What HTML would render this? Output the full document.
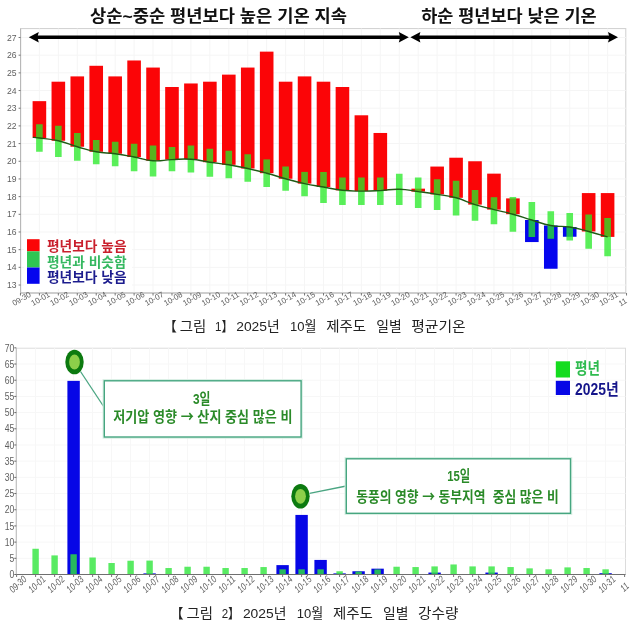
<!DOCTYPE html>
<html lang="ko"><head><meta charset="utf-8"><title>2025년 10월 제주도 일별 평균기온 / 강수량</title>
<style>
html,body{margin:0;padding:0;background:#fff;}
body{width:640px;height:625px;overflow:hidden;font-family:"Liberation Sans","Noto Sans CJK KR",sans-serif;}
svg{display:block;}
.kr{font-family:"Liberation Sans","Noto Sans CJK KR",sans-serif;}
.ax{font-family:"Liberation Sans",sans-serif;fill:#606060;}
</style></head><body>
<svg width="640" height="625" viewBox="0 0 640 625">
<rect x="0" y="0" width="640" height="625" fill="#ffffff"/>

<g id="chart1">
<rect x="20.6" y="28.6" width="605.1999999999999" height="264.4" fill="#fff" stroke="#cfcfcf" stroke-width="1"/>
<path d="M20.6 285.02H625.8 M20.6 267.34H625.8 M20.6 249.66H625.8 M20.6 231.98H625.8 M20.6 214.30H625.8 M20.6 196.62H625.8 M20.6 178.94H625.8 M20.6 161.26H625.8 M20.6 143.58H625.8 M20.6 125.90H625.8 M20.6 108.22H625.8 M20.6 90.54H625.8 M20.6 72.86H625.8 M20.6 55.18H625.8 M20.6 37.50H625.8 M39.40 28.6V293.0 M58.34 28.6V293.0 M77.28 28.6V293.0 M96.22 28.6V293.0 M115.16 28.6V293.0 M134.10 28.6V293.0 M153.04 28.6V293.0 M171.98 28.6V293.0 M190.92 28.6V293.0 M209.86 28.6V293.0 M228.80 28.6V293.0 M247.74 28.6V293.0 M266.68 28.6V293.0 M285.62 28.6V293.0 M304.56 28.6V293.0 M323.50 28.6V293.0 M342.44 28.6V293.0 M361.38 28.6V293.0 M380.32 28.6V293.0 M399.26 28.6V293.0 M418.20 28.6V293.0 M437.14 28.6V293.0 M456.08 28.6V293.0 M475.02 28.6V293.0 M493.96 28.6V293.0 M512.90 28.6V293.0 M531.84 28.6V293.0 M550.78 28.6V293.0 M569.72 28.6V293.0 M588.66 28.6V293.0 M607.60 28.6V293.0" stroke="#f5f5f5" stroke-width="1" fill="none"/>
<path d="M20.6 28.6V293.0H625.8" stroke="#b5b5b5" stroke-width="1" fill="none"/>
<path d="M18.6 285.02H20.6 M18.6 267.34H20.6 M18.6 249.66H20.6 M18.6 231.98H20.6 M18.6 214.30H20.6 M18.6 196.62H20.6 M18.6 178.94H20.6 M18.6 161.26H20.6 M18.6 143.58H20.6 M18.6 125.90H20.6 M18.6 108.22H20.6 M18.6 90.54H20.6 M18.6 72.86H20.6 M18.6 55.18H20.6 M18.6 37.50H20.6 M20.46 293.0v2.5 M39.40 293.0v2.5 M58.34 293.0v2.5 M77.28 293.0v2.5 M96.22 293.0v2.5 M115.16 293.0v2.5 M134.10 293.0v2.5 M153.04 293.0v2.5 M171.98 293.0v2.5 M190.92 293.0v2.5 M209.86 293.0v2.5 M228.80 293.0v2.5 M247.74 293.0v2.5 M266.68 293.0v2.5 M285.62 293.0v2.5 M304.56 293.0v2.5 M323.50 293.0v2.5 M342.44 293.0v2.5 M361.38 293.0v2.5 M380.32 293.0v2.5 M399.26 293.0v2.5 M418.20 293.0v2.5 M437.14 293.0v2.5 M456.08 293.0v2.5 M475.02 293.0v2.5 M493.96 293.0v2.5 M512.90 293.0v2.5 M531.84 293.0v2.5 M550.78 293.0v2.5 M569.72 293.0v2.5 M588.66 293.0v2.5 M607.60 293.0v2.5 M626.54 293.0v2.5" stroke="#777" stroke-width="1" fill="none"/>
<text class="ax" x="16.6" y="288.02" font-size="8.6" text-anchor="end" fill="#5c5c5c">13</text>
<text class="ax" x="16.6" y="270.34" font-size="8.6" text-anchor="end" fill="#5c5c5c">14</text>
<text class="ax" x="16.6" y="252.66" font-size="8.6" text-anchor="end" fill="#5c5c5c">15</text>
<text class="ax" x="16.6" y="234.98" font-size="8.6" text-anchor="end" fill="#5c5c5c">16</text>
<text class="ax" x="16.6" y="217.30" font-size="8.6" text-anchor="end" fill="#5c5c5c">17</text>
<text class="ax" x="16.6" y="199.62" font-size="8.6" text-anchor="end" fill="#5c5c5c">18</text>
<text class="ax" x="16.6" y="181.94" font-size="8.6" text-anchor="end" fill="#5c5c5c">19</text>
<text class="ax" x="16.6" y="164.26" font-size="8.6" text-anchor="end" fill="#5c5c5c">20</text>
<text class="ax" x="16.6" y="146.58" font-size="8.6" text-anchor="end" fill="#5c5c5c">21</text>
<text class="ax" x="16.6" y="128.90" font-size="8.6" text-anchor="end" fill="#5c5c5c">22</text>
<text class="ax" x="16.6" y="111.22" font-size="8.6" text-anchor="end" fill="#5c5c5c">23</text>
<text class="ax" x="16.6" y="93.54" font-size="8.6" text-anchor="end" fill="#5c5c5c">24</text>
<text class="ax" x="16.6" y="75.86" font-size="8.6" text-anchor="end" fill="#5c5c5c">25</text>
<text class="ax" x="16.6" y="58.18" font-size="8.6" text-anchor="end" fill="#5c5c5c">26</text>
<text class="ax" x="16.6" y="40.50" font-size="8.6" text-anchor="end" fill="#5c5c5c">27</text>
<text class="ax" transform="translate(21.66 298.9) rotate(-30)" font-size="7.9" text-anchor="middle" dominant-baseline="central" fill="#5f5f5f">09-30</text>
<text class="ax" transform="translate(40.60 298.9) rotate(-30)" font-size="7.9" text-anchor="middle" dominant-baseline="central" fill="#5f5f5f">10-01</text>
<text class="ax" transform="translate(59.54 298.9) rotate(-30)" font-size="7.9" text-anchor="middle" dominant-baseline="central" fill="#5f5f5f">10-02</text>
<text class="ax" transform="translate(78.48 298.9) rotate(-30)" font-size="7.9" text-anchor="middle" dominant-baseline="central" fill="#5f5f5f">10-03</text>
<text class="ax" transform="translate(97.42 298.9) rotate(-30)" font-size="7.9" text-anchor="middle" dominant-baseline="central" fill="#5f5f5f">10-04</text>
<text class="ax" transform="translate(116.36 298.9) rotate(-30)" font-size="7.9" text-anchor="middle" dominant-baseline="central" fill="#5f5f5f">10-05</text>
<text class="ax" transform="translate(135.30 298.9) rotate(-30)" font-size="7.9" text-anchor="middle" dominant-baseline="central" fill="#5f5f5f">10-06</text>
<text class="ax" transform="translate(154.24 298.9) rotate(-30)" font-size="7.9" text-anchor="middle" dominant-baseline="central" fill="#5f5f5f">10-07</text>
<text class="ax" transform="translate(173.18 298.9) rotate(-30)" font-size="7.9" text-anchor="middle" dominant-baseline="central" fill="#5f5f5f">10-08</text>
<text class="ax" transform="translate(192.12 298.9) rotate(-30)" font-size="7.9" text-anchor="middle" dominant-baseline="central" fill="#5f5f5f">10-09</text>
<text class="ax" transform="translate(211.06 298.9) rotate(-30)" font-size="7.9" text-anchor="middle" dominant-baseline="central" fill="#5f5f5f">10-10</text>
<text class="ax" transform="translate(230.00 298.9) rotate(-30)" font-size="7.9" text-anchor="middle" dominant-baseline="central" fill="#5f5f5f">10-11</text>
<text class="ax" transform="translate(248.94 298.9) rotate(-30)" font-size="7.9" text-anchor="middle" dominant-baseline="central" fill="#5f5f5f">10-12</text>
<text class="ax" transform="translate(267.88 298.9) rotate(-30)" font-size="7.9" text-anchor="middle" dominant-baseline="central" fill="#5f5f5f">10-13</text>
<text class="ax" transform="translate(286.82 298.9) rotate(-30)" font-size="7.9" text-anchor="middle" dominant-baseline="central" fill="#5f5f5f">10-14</text>
<text class="ax" transform="translate(305.76 298.9) rotate(-30)" font-size="7.9" text-anchor="middle" dominant-baseline="central" fill="#5f5f5f">10-15</text>
<text class="ax" transform="translate(324.70 298.9) rotate(-30)" font-size="7.9" text-anchor="middle" dominant-baseline="central" fill="#5f5f5f">10-16</text>
<text class="ax" transform="translate(343.64 298.9) rotate(-30)" font-size="7.9" text-anchor="middle" dominant-baseline="central" fill="#5f5f5f">10-17</text>
<text class="ax" transform="translate(362.58 298.9) rotate(-30)" font-size="7.9" text-anchor="middle" dominant-baseline="central" fill="#5f5f5f">10-18</text>
<text class="ax" transform="translate(381.52 298.9) rotate(-30)" font-size="7.9" text-anchor="middle" dominant-baseline="central" fill="#5f5f5f">10-19</text>
<text class="ax" transform="translate(400.46 298.9) rotate(-30)" font-size="7.9" text-anchor="middle" dominant-baseline="central" fill="#5f5f5f">10-20</text>
<text class="ax" transform="translate(419.40 298.9) rotate(-30)" font-size="7.9" text-anchor="middle" dominant-baseline="central" fill="#5f5f5f">10-21</text>
<text class="ax" transform="translate(438.34 298.9) rotate(-30)" font-size="7.9" text-anchor="middle" dominant-baseline="central" fill="#5f5f5f">10-22</text>
<text class="ax" transform="translate(457.28 298.9) rotate(-30)" font-size="7.9" text-anchor="middle" dominant-baseline="central" fill="#5f5f5f">10-23</text>
<text class="ax" transform="translate(476.22 298.9) rotate(-30)" font-size="7.9" text-anchor="middle" dominant-baseline="central" fill="#5f5f5f">10-24</text>
<text class="ax" transform="translate(495.16 298.9) rotate(-30)" font-size="7.9" text-anchor="middle" dominant-baseline="central" fill="#5f5f5f">10-25</text>
<text class="ax" transform="translate(514.10 298.9) rotate(-30)" font-size="7.9" text-anchor="middle" dominant-baseline="central" fill="#5f5f5f">10-26</text>
<text class="ax" transform="translate(533.04 298.9) rotate(-30)" font-size="7.9" text-anchor="middle" dominant-baseline="central" fill="#5f5f5f">10-27</text>
<text class="ax" transform="translate(551.98 298.9) rotate(-30)" font-size="7.9" text-anchor="middle" dominant-baseline="central" fill="#5f5f5f">10-28</text>
<text class="ax" transform="translate(570.92 298.9) rotate(-30)" font-size="7.9" text-anchor="middle" dominant-baseline="central" fill="#5f5f5f">10-29</text>
<text class="ax" transform="translate(589.86 298.9) rotate(-30)" font-size="7.9" text-anchor="middle" dominant-baseline="central" fill="#5f5f5f">10-30</text>
<text class="ax" transform="translate(608.80 298.9) rotate(-30)" font-size="7.9" text-anchor="middle" dominant-baseline="central" fill="#5f5f5f">10-31</text>
<text class="ax" transform="translate(622.80 302.2) rotate(-30)" font-size="7.9" text-anchor="middle" dominant-baseline="central" fill="#5f5f5f">11</text>
<rect x="32.60" y="101.15" width="13.6" height="36.85" fill="#fb0507"/>
<rect x="51.54" y="81.70" width="13.6" height="59.05" fill="#fb0507"/>
<rect x="70.48" y="76.40" width="13.6" height="70.35" fill="#fb0507"/>
<rect x="89.42" y="65.79" width="13.6" height="85.96" fill="#fb0507"/>
<rect x="108.36" y="76.40" width="13.6" height="77.35" fill="#fb0507"/>
<rect x="127.30" y="60.48" width="13.6" height="96.52" fill="#fb0507"/>
<rect x="146.24" y="67.56" width="13.6" height="93.19" fill="#fb0507"/>
<rect x="165.18" y="87.00" width="13.6" height="72.60" fill="#fb0507"/>
<rect x="184.12" y="83.47" width="13.6" height="75.73" fill="#fb0507"/>
<rect x="203.06" y="81.70" width="13.6" height="80.50" fill="#fb0507"/>
<rect x="222.00" y="74.63" width="13.6" height="90.17" fill="#fb0507"/>
<rect x="240.94" y="67.56" width="13.6" height="100.94" fill="#fb0507"/>
<rect x="259.88" y="51.64" width="13.6" height="121.56" fill="#fb0507"/>
<rect x="278.82" y="81.70" width="13.6" height="97.05" fill="#fb0507"/>
<rect x="297.76" y="76.40" width="13.6" height="107.20" fill="#fb0507"/>
<rect x="316.70" y="81.70" width="13.6" height="105.30" fill="#fb0507"/>
<rect x="335.64" y="87.00" width="13.6" height="103.30" fill="#fb0507"/>
<rect x="354.58" y="115.29" width="13.6" height="75.81" fill="#fb0507"/>
<rect x="373.52" y="132.97" width="13.6" height="57.63" fill="#fb0507"/>
<rect x="411.40" y="188.66" width="13.6" height="2.94" fill="#fb0507"/>
<rect x="430.34" y="166.56" width="13.6" height="27.84" fill="#fb0507"/>
<rect x="449.28" y="157.72" width="13.6" height="40.08" fill="#fb0507"/>
<rect x="468.22" y="161.26" width="13.6" height="43.34" fill="#fb0507"/>
<rect x="487.16" y="173.64" width="13.6" height="35.96" fill="#fb0507"/>
<rect x="506.10" y="198.39" width="13.6" height="15.81" fill="#fb0507"/>
<rect x="525.04" y="220.00" width="13.6" height="22.06" fill="#0505ee"/>
<rect x="543.98" y="225.50" width="13.6" height="43.25" fill="#0505ee"/>
<rect x="562.92" y="227.00" width="13.6" height="9.75" fill="#0505ee"/>
<rect x="581.86" y="193.08" width="13.6" height="38.42" fill="#fb0507"/>
<rect x="600.80" y="193.08" width="13.6" height="43.82" fill="#fb0507"/>
<rect x="36.10" y="124.25" width="6.6" height="27.50" fill="#26ea26" fill-opacity="0.76"/>
<rect x="55.04" y="125.75" width="6.6" height="31.25" fill="#26ea26" fill-opacity="0.76"/>
<rect x="73.98" y="133.00" width="6.6" height="27.75" fill="#26ea26" fill-opacity="0.76"/>
<rect x="92.92" y="140.00" width="6.6" height="24.25" fill="#26ea26" fill-opacity="0.76"/>
<rect x="111.86" y="141.75" width="6.6" height="24.50" fill="#26ea26" fill-opacity="0.76"/>
<rect x="130.80" y="143.75" width="6.6" height="27.50" fill="#26ea26" fill-opacity="0.76"/>
<rect x="149.74" y="145.50" width="6.6" height="31.00" fill="#26ea26" fill-opacity="0.76"/>
<rect x="168.68" y="147.00" width="6.6" height="24.25" fill="#26ea26" fill-opacity="0.76"/>
<rect x="187.62" y="145.50" width="6.6" height="27.00" fill="#26ea26" fill-opacity="0.76"/>
<rect x="206.56" y="148.75" width="6.6" height="28.00" fill="#26ea26" fill-opacity="0.76"/>
<rect x="225.50" y="150.75" width="6.6" height="27.50" fill="#26ea26" fill-opacity="0.76"/>
<rect x="244.44" y="154.25" width="6.6" height="27.50" fill="#26ea26" fill-opacity="0.76"/>
<rect x="263.38" y="159.40" width="6.6" height="27.60" fill="#26ea26" fill-opacity="0.76"/>
<rect x="282.32" y="166.50" width="6.6" height="24.25" fill="#26ea26" fill-opacity="0.76"/>
<rect x="301.26" y="171.90" width="6.6" height="24.35" fill="#26ea26" fill-opacity="0.76"/>
<rect x="320.20" y="172.00" width="6.6" height="31.00" fill="#26ea26" fill-opacity="0.76"/>
<rect x="339.14" y="177.50" width="6.6" height="27.50" fill="#26ea26" fill-opacity="0.76"/>
<rect x="358.08" y="177.50" width="6.6" height="27.50" fill="#26ea26" fill-opacity="0.76"/>
<rect x="377.02" y="177.50" width="6.6" height="27.50" fill="#26ea26" fill-opacity="0.76"/>
<rect x="395.96" y="173.75" width="6.6" height="31.25" fill="#26ea26" fill-opacity="0.76"/>
<rect x="414.90" y="177.50" width="6.6" height="30.50" fill="#26ea26" fill-opacity="0.76"/>
<rect x="433.84" y="179.25" width="6.6" height="30.75" fill="#26ea26" fill-opacity="0.76"/>
<rect x="452.78" y="180.75" width="6.6" height="34.75" fill="#26ea26" fill-opacity="0.76"/>
<rect x="471.72" y="190.00" width="6.6" height="30.75" fill="#26ea26" fill-opacity="0.76"/>
<rect x="490.66" y="197.20" width="6.6" height="27.05" fill="#26ea26" fill-opacity="0.76"/>
<rect x="509.60" y="197.00" width="6.6" height="34.75" fill="#26ea26" fill-opacity="0.76"/>
<rect x="528.54" y="202.00" width="6.6" height="35.00" fill="#26ea26" fill-opacity="0.76"/>
<rect x="547.48" y="211.25" width="6.6" height="27.50" fill="#26ea26" fill-opacity="0.76"/>
<rect x="566.42" y="213.00" width="6.6" height="27.50" fill="#26ea26" fill-opacity="0.76"/>
<rect x="585.36" y="214.50" width="6.6" height="34.25" fill="#26ea26" fill-opacity="0.76"/>
<rect x="604.30" y="218.00" width="6.6" height="38.25" fill="#26ea26" fill-opacity="0.76"/>
<path d="M33.00 137.30C34.60 137.48 33.06 137.14 39.40 138.00C45.73 138.86 48.87 138.56 58.34 140.75C67.81 142.94 67.81 144.00 77.28 146.75C86.75 149.50 86.75 150.00 96.22 151.75C105.69 153.50 105.69 152.44 115.16 153.75C124.63 155.06 124.63 155.25 134.10 157.00C143.57 158.75 143.57 160.10 153.04 160.75C162.51 161.40 162.51 159.99 171.98 159.60C181.45 159.21 181.45 158.55 190.92 159.20C200.39 159.85 200.39 160.80 209.86 162.20C219.33 163.60 219.33 163.23 228.80 164.80C238.27 166.38 238.27 166.40 247.74 168.50C257.21 170.60 257.21 170.64 266.68 173.20C276.15 175.76 276.15 176.15 285.62 178.75C295.09 181.35 295.09 181.54 304.56 183.60C314.03 185.66 314.03 185.32 323.50 187.00C332.97 188.68 332.97 189.28 342.44 190.30C351.91 191.33 351.91 191.03 361.38 191.10C370.85 191.17 370.85 191.06 380.32 190.60C389.79 190.14 389.79 189.00 399.26 189.25C408.73 189.50 408.73 190.31 418.20 191.60C427.67 192.89 427.67 192.85 437.14 194.40C446.61 195.95 446.61 195.25 456.08 197.80C465.55 200.35 465.55 201.65 475.02 204.60C484.49 207.55 484.49 207.20 493.96 209.60C503.43 212.00 503.43 211.60 512.90 214.20C522.37 216.80 522.37 217.18 531.84 220.00C541.31 222.82 541.31 223.75 550.78 225.50C560.25 227.25 560.25 225.50 569.72 227.00C579.19 228.50 579.19 229.03 588.66 231.50C598.13 233.97 602.87 235.55 607.60 236.90" fill="none" stroke="#1f5a14" stroke-width="1.4" stroke-linejoin="round"/>
<rect x="24" y="234" width="108" height="55" fill="#fff" fill-opacity="0.92"/>
<rect x="27" y="239.2" width="12.6" height="12.1" fill="#fb0507"/>
<rect x="27" y="251.3" width="12.6" height="16.2" fill="#2fc653"/>
<rect x="27" y="267.5" width="12.6" height="16.3" fill="#0505ee"/>
<text class="kr" x="47" y="251.3" font-size="13.4" font-weight="700" fill="#c91f2c" textLength="79.5" lengthAdjust="spacingAndGlyphs">평년보다 높음</text>
<text class="kr" x="47" y="266.8" font-size="13.4" font-weight="700" fill="#35b860" textLength="79.5" lengthAdjust="spacingAndGlyphs">평년과 비슷함</text>
<text class="kr" x="47" y="282.2" font-size="13.4" font-weight="700" fill="#1c1c8e" textLength="79.5" lengthAdjust="spacingAndGlyphs">평년보다 낮음</text>
<path d="M34.8 37.3H402.8" stroke="#000" stroke-width="3.6" fill="none"/><path d="M28.8 37.3L38.8 31.999999999999996L37.4 37.3L38.8 42.599999999999994Z" fill="#000"/><path d="M408.8 37.3L398.8 31.999999999999996L400.2 37.3L398.8 42.599999999999994Z" fill="#000"/>
<path d="M416.4 37.3H612" stroke="#000" stroke-width="3.6" fill="none"/><path d="M410.4 37.3L420.4 31.999999999999996L419.0 37.3L420.4 42.599999999999994Z" fill="#000"/><path d="M618 37.3L608 31.999999999999996L609.4 37.3L608 42.599999999999994Z" fill="#000"/>
<text class="kr" x="90" y="22.3" font-size="17" font-weight="700" fill="#111" textLength="257" lengthAdjust="spacingAndGlyphs">상순~중순 평년보다 높은 기온 지속</text>
<text class="kr" x="421.2" y="22.3" font-size="17" font-weight="700" fill="#111" textLength="175.5" lengthAdjust="spacingAndGlyphs">하순 평년보다 낮은 기온</text>
</g>
<text class="kr" y="330.6" font-size="13.3" fill="#222"><tspan x="163.5" textLength="13.3" lengthAdjust="spacingAndGlyphs">【</tspan><tspan x="179.8" textLength="26.6" lengthAdjust="spacingAndGlyphs">그림</tspan><tspan x="215" textLength="18" lengthAdjust="spacingAndGlyphs">1】</tspan><tspan x="236.2" textLength="43.5" lengthAdjust="spacingAndGlyphs">2025년</tspan><tspan x="290" textLength="26.5" lengthAdjust="spacingAndGlyphs">10월</tspan><tspan x="326.2" textLength="40" lengthAdjust="spacingAndGlyphs">제주도</tspan><tspan x="376.2" textLength="25.5" lengthAdjust="spacingAndGlyphs">일별</tspan><tspan x="411.2" textLength="54.5" lengthAdjust="spacingAndGlyphs">평균기온</tspan></text>
<g id="chart2">
<rect x="16.3" y="348.2" width="609.2" height="226.3" fill="#fff" stroke="#dcdcdc" stroke-width="1"/>
<path d="M16.3 558.31H625.5 M16.3 542.12H625.5 M16.3 525.93H625.5 M16.3 509.74H625.5 M16.3 493.55H625.5 M16.3 477.36H625.5 M16.3 461.17H625.5 M16.3 444.98H625.5 M16.3 428.79H625.5 M16.3 412.60H625.5 M16.3 396.41H625.5 M16.3 380.22H625.5 M16.3 364.03H625.5 M35.60 348.2V574.5 M54.60 348.2V574.5 M73.60 348.2V574.5 M92.60 348.2V574.5 M111.60 348.2V574.5 M130.60 348.2V574.5 M149.60 348.2V574.5 M168.60 348.2V574.5 M187.60 348.2V574.5 M206.60 348.2V574.5 M225.60 348.2V574.5 M244.60 348.2V574.5 M263.60 348.2V574.5 M282.60 348.2V574.5 M301.60 348.2V574.5 M320.60 348.2V574.5 M339.60 348.2V574.5 M358.60 348.2V574.5 M377.60 348.2V574.5 M396.60 348.2V574.5 M415.60 348.2V574.5 M434.60 348.2V574.5 M453.60 348.2V574.5 M472.60 348.2V574.5 M491.60 348.2V574.5 M510.60 348.2V574.5 M529.60 348.2V574.5 M548.60 348.2V574.5 M567.60 348.2V574.5 M586.60 348.2V574.5 M605.60 348.2V574.5" stroke="#f7f7f7" stroke-width="1" fill="none"/>
<path d="M16.3 348.2V574.5" stroke="#bdbdbd" stroke-width="1" fill="none"/>
<path d="M14.3 574.50H16.3 M14.3 558.31H16.3 M14.3 542.12H16.3 M14.3 525.93H16.3 M14.3 509.74H16.3 M14.3 493.55H16.3 M14.3 477.36H16.3 M14.3 461.17H16.3 M14.3 444.98H16.3 M14.3 428.79H16.3 M14.3 412.60H16.3 M14.3 396.41H16.3 M14.3 380.22H16.3 M14.3 364.03H16.3 M14.3 347.84H16.3" stroke="#666" stroke-width="1" fill="none"/>
<text class="ax" x="14.3" y="578.20" font-size="10.2" text-anchor="end" textLength="4.8" lengthAdjust="spacingAndGlyphs">0</text>
<text class="ax" x="14.3" y="562.01" font-size="10.2" text-anchor="end" textLength="4.8" lengthAdjust="spacingAndGlyphs">5</text>
<text class="ax" x="14.3" y="545.82" font-size="10.2" text-anchor="end" textLength="9.6" lengthAdjust="spacingAndGlyphs">10</text>
<text class="ax" x="14.3" y="529.63" font-size="10.2" text-anchor="end" textLength="9.6" lengthAdjust="spacingAndGlyphs">15</text>
<text class="ax" x="14.3" y="513.44" font-size="10.2" text-anchor="end" textLength="9.6" lengthAdjust="spacingAndGlyphs">20</text>
<text class="ax" x="14.3" y="497.25" font-size="10.2" text-anchor="end" textLength="9.6" lengthAdjust="spacingAndGlyphs">25</text>
<text class="ax" x="14.3" y="481.06" font-size="10.2" text-anchor="end" textLength="9.6" lengthAdjust="spacingAndGlyphs">30</text>
<text class="ax" x="14.3" y="464.87" font-size="10.2" text-anchor="end" textLength="9.6" lengthAdjust="spacingAndGlyphs">35</text>
<text class="ax" x="14.3" y="448.68" font-size="10.2" text-anchor="end" textLength="9.6" lengthAdjust="spacingAndGlyphs">40</text>
<text class="ax" x="14.3" y="432.49" font-size="10.2" text-anchor="end" textLength="9.6" lengthAdjust="spacingAndGlyphs">45</text>
<text class="ax" x="14.3" y="416.30" font-size="10.2" text-anchor="end" textLength="9.6" lengthAdjust="spacingAndGlyphs">50</text>
<text class="ax" x="14.3" y="400.11" font-size="10.2" text-anchor="end" textLength="9.6" lengthAdjust="spacingAndGlyphs">55</text>
<text class="ax" x="14.3" y="383.92" font-size="10.2" text-anchor="end" textLength="9.6" lengthAdjust="spacingAndGlyphs">60</text>
<text class="ax" x="14.3" y="367.73" font-size="10.2" text-anchor="end" textLength="9.6" lengthAdjust="spacingAndGlyphs">65</text>
<text class="ax" x="14.3" y="351.54" font-size="10.2" text-anchor="end" textLength="9.6" lengthAdjust="spacingAndGlyphs">70</text>
<rect x="67.40" y="380.87" width="12.4" height="193.63" fill="#0707e6"/>
<rect x="143.40" y="573.37" width="12.4" height="1.13" fill="#0707e6"/>
<rect x="276.40" y="565.11" width="12.4" height="9.39" fill="#0707e6"/>
<rect x="295.40" y="514.92" width="12.4" height="59.58" fill="#0707e6"/>
<rect x="314.40" y="559.93" width="12.4" height="14.57" fill="#0707e6"/>
<rect x="333.40" y="573.37" width="12.4" height="1.13" fill="#0707e6"/>
<rect x="352.40" y="571.26" width="12.4" height="3.24" fill="#0707e6"/>
<rect x="371.40" y="568.67" width="12.4" height="5.83" fill="#0707e6"/>
<rect x="428.40" y="572.56" width="12.4" height="1.94" fill="#0707e6"/>
<rect x="485.40" y="572.56" width="12.4" height="1.94" fill="#0707e6"/>
<rect x="599.40" y="573.20" width="12.4" height="1.30" fill="#0707e6"/>
<rect x="32.40" y="548.76" width="6.4" height="25.74" fill="#30e63c" fill-opacity="0.8"/>
<rect x="51.40" y="555.40" width="6.4" height="19.10" fill="#30e63c" fill-opacity="0.8"/>
<rect x="70.40" y="554.26" width="6.4" height="20.24" fill="#30e63c" fill-opacity="0.8"/>
<rect x="89.40" y="557.50" width="6.4" height="17.00" fill="#30e63c" fill-opacity="0.8"/>
<rect x="108.40" y="563.01" width="6.4" height="11.49" fill="#30e63c" fill-opacity="0.8"/>
<rect x="127.40" y="560.74" width="6.4" height="13.76" fill="#30e63c" fill-opacity="0.8"/>
<rect x="146.40" y="560.58" width="6.4" height="13.92" fill="#30e63c" fill-opacity="0.8"/>
<rect x="165.40" y="568.02" width="6.4" height="6.48" fill="#30e63c" fill-opacity="0.8"/>
<rect x="184.40" y="566.73" width="6.4" height="7.77" fill="#30e63c" fill-opacity="0.8"/>
<rect x="203.40" y="566.73" width="6.4" height="7.77" fill="#30e63c" fill-opacity="0.8"/>
<rect x="222.40" y="568.02" width="6.4" height="6.48" fill="#30e63c" fill-opacity="0.8"/>
<rect x="241.40" y="568.02" width="6.4" height="6.48" fill="#30e63c" fill-opacity="0.8"/>
<rect x="260.40" y="567.05" width="6.4" height="7.45" fill="#30e63c" fill-opacity="0.8"/>
<rect x="279.40" y="569.32" width="6.4" height="5.18" fill="#30e63c" fill-opacity="0.8"/>
<rect x="298.40" y="569.32" width="6.4" height="5.18" fill="#30e63c" fill-opacity="0.8"/>
<rect x="317.40" y="569.32" width="6.4" height="5.18" fill="#30e63c" fill-opacity="0.8"/>
<rect x="336.40" y="571.26" width="6.4" height="3.24" fill="#30e63c" fill-opacity="0.8"/>
<rect x="355.40" y="571.59" width="6.4" height="2.91" fill="#30e63c" fill-opacity="0.8"/>
<rect x="374.40" y="569.48" width="6.4" height="5.02" fill="#30e63c" fill-opacity="0.8"/>
<rect x="393.40" y="566.73" width="6.4" height="7.77" fill="#30e63c" fill-opacity="0.8"/>
<rect x="412.40" y="567.05" width="6.4" height="7.45" fill="#30e63c" fill-opacity="0.8"/>
<rect x="431.40" y="566.40" width="6.4" height="8.10" fill="#30e63c" fill-opacity="0.8"/>
<rect x="450.40" y="564.46" width="6.4" height="10.04" fill="#30e63c" fill-opacity="0.8"/>
<rect x="469.40" y="566.40" width="6.4" height="8.10" fill="#30e63c" fill-opacity="0.8"/>
<rect x="488.40" y="566.40" width="6.4" height="8.10" fill="#30e63c" fill-opacity="0.8"/>
<rect x="507.40" y="567.05" width="6.4" height="7.45" fill="#30e63c" fill-opacity="0.8"/>
<rect x="526.40" y="568.35" width="6.4" height="6.15" fill="#30e63c" fill-opacity="0.8"/>
<rect x="545.40" y="569.32" width="6.4" height="5.18" fill="#30e63c" fill-opacity="0.8"/>
<rect x="564.40" y="567.38" width="6.4" height="7.12" fill="#30e63c" fill-opacity="0.8"/>
<rect x="583.40" y="568.02" width="6.4" height="6.48" fill="#30e63c" fill-opacity="0.8"/>
<rect x="602.40" y="569.32" width="6.4" height="5.18" fill="#30e63c" fill-opacity="0.8"/>
<path d="M16.3 574.5H625.5" stroke="#6f6f6f" stroke-width="1.1" fill="none"/>
<path d="M16.60 574.5v2.5 M35.60 574.5v2.5 M54.60 574.5v2.5 M73.60 574.5v2.5 M92.60 574.5v2.5 M111.60 574.5v2.5 M130.60 574.5v2.5 M149.60 574.5v2.5 M168.60 574.5v2.5 M187.60 574.5v2.5 M206.60 574.5v2.5 M225.60 574.5v2.5 M244.60 574.5v2.5 M263.60 574.5v2.5 M282.60 574.5v2.5 M301.60 574.5v2.5 M320.60 574.5v2.5 M339.60 574.5v2.5 M358.60 574.5v2.5 M377.60 574.5v2.5 M396.60 574.5v2.5 M415.60 574.5v2.5 M434.60 574.5v2.5 M453.60 574.5v2.5 M472.60 574.5v2.5 M491.60 574.5v2.5 M510.60 574.5v2.5 M529.60 574.5v2.5 M548.60 574.5v2.5 M567.60 574.5v2.5 M586.60 574.5v2.5 M605.60 574.5v2.5 M624.60 574.5v2.5" stroke="#777" stroke-width="1" fill="none"/>
<text class="ax" transform="translate(17.80 584.2) rotate(-43)" font-size="10" font-style="italic" text-anchor="middle" dominant-baseline="central" textLength="19.4" lengthAdjust="spacingAndGlyphs" fill="#5e5e5e">09-30</text>
<text class="ax" transform="translate(36.80 584.2) rotate(-43)" font-size="10" font-style="italic" text-anchor="middle" dominant-baseline="central" textLength="19.4" lengthAdjust="spacingAndGlyphs" fill="#5e5e5e">10-01</text>
<text class="ax" transform="translate(55.80 584.2) rotate(-43)" font-size="10" font-style="italic" text-anchor="middle" dominant-baseline="central" textLength="19.4" lengthAdjust="spacingAndGlyphs" fill="#5e5e5e">10-02</text>
<text class="ax" transform="translate(74.80 584.2) rotate(-43)" font-size="10" font-style="italic" text-anchor="middle" dominant-baseline="central" textLength="19.4" lengthAdjust="spacingAndGlyphs" fill="#5e5e5e">10-03</text>
<text class="ax" transform="translate(93.80 584.2) rotate(-43)" font-size="10" font-style="italic" text-anchor="middle" dominant-baseline="central" textLength="19.4" lengthAdjust="spacingAndGlyphs" fill="#5e5e5e">10-04</text>
<text class="ax" transform="translate(112.80 584.2) rotate(-43)" font-size="10" font-style="italic" text-anchor="middle" dominant-baseline="central" textLength="19.4" lengthAdjust="spacingAndGlyphs" fill="#5e5e5e">10-05</text>
<text class="ax" transform="translate(131.80 584.2) rotate(-43)" font-size="10" font-style="italic" text-anchor="middle" dominant-baseline="central" textLength="19.4" lengthAdjust="spacingAndGlyphs" fill="#5e5e5e">10-06</text>
<text class="ax" transform="translate(150.80 584.2) rotate(-43)" font-size="10" font-style="italic" text-anchor="middle" dominant-baseline="central" textLength="19.4" lengthAdjust="spacingAndGlyphs" fill="#5e5e5e">10-07</text>
<text class="ax" transform="translate(169.80 584.2) rotate(-43)" font-size="10" font-style="italic" text-anchor="middle" dominant-baseline="central" textLength="19.4" lengthAdjust="spacingAndGlyphs" fill="#5e5e5e">10-08</text>
<text class="ax" transform="translate(188.80 584.2) rotate(-43)" font-size="10" font-style="italic" text-anchor="middle" dominant-baseline="central" textLength="19.4" lengthAdjust="spacingAndGlyphs" fill="#5e5e5e">10-09</text>
<text class="ax" transform="translate(207.80 584.2) rotate(-43)" font-size="10" font-style="italic" text-anchor="middle" dominant-baseline="central" textLength="19.4" lengthAdjust="spacingAndGlyphs" fill="#5e5e5e">10-10</text>
<text class="ax" transform="translate(226.80 584.2) rotate(-43)" font-size="10" font-style="italic" text-anchor="middle" dominant-baseline="central" textLength="19.4" lengthAdjust="spacingAndGlyphs" fill="#5e5e5e">10-11</text>
<text class="ax" transform="translate(245.80 584.2) rotate(-43)" font-size="10" font-style="italic" text-anchor="middle" dominant-baseline="central" textLength="19.4" lengthAdjust="spacingAndGlyphs" fill="#5e5e5e">10-12</text>
<text class="ax" transform="translate(264.80 584.2) rotate(-43)" font-size="10" font-style="italic" text-anchor="middle" dominant-baseline="central" textLength="19.4" lengthAdjust="spacingAndGlyphs" fill="#5e5e5e">10-13</text>
<text class="ax" transform="translate(283.80 584.2) rotate(-43)" font-size="10" font-style="italic" text-anchor="middle" dominant-baseline="central" textLength="19.4" lengthAdjust="spacingAndGlyphs" fill="#5e5e5e">10-14</text>
<text class="ax" transform="translate(302.80 584.2) rotate(-43)" font-size="10" font-style="italic" text-anchor="middle" dominant-baseline="central" textLength="19.4" lengthAdjust="spacingAndGlyphs" fill="#5e5e5e">10-15</text>
<text class="ax" transform="translate(321.80 584.2) rotate(-43)" font-size="10" font-style="italic" text-anchor="middle" dominant-baseline="central" textLength="19.4" lengthAdjust="spacingAndGlyphs" fill="#5e5e5e">10-16</text>
<text class="ax" transform="translate(340.80 584.2) rotate(-43)" font-size="10" font-style="italic" text-anchor="middle" dominant-baseline="central" textLength="19.4" lengthAdjust="spacingAndGlyphs" fill="#5e5e5e">10-17</text>
<text class="ax" transform="translate(359.80 584.2) rotate(-43)" font-size="10" font-style="italic" text-anchor="middle" dominant-baseline="central" textLength="19.4" lengthAdjust="spacingAndGlyphs" fill="#5e5e5e">10-18</text>
<text class="ax" transform="translate(378.80 584.2) rotate(-43)" font-size="10" font-style="italic" text-anchor="middle" dominant-baseline="central" textLength="19.4" lengthAdjust="spacingAndGlyphs" fill="#5e5e5e">10-19</text>
<text class="ax" transform="translate(397.80 584.2) rotate(-43)" font-size="10" font-style="italic" text-anchor="middle" dominant-baseline="central" textLength="19.4" lengthAdjust="spacingAndGlyphs" fill="#5e5e5e">10-20</text>
<text class="ax" transform="translate(416.80 584.2) rotate(-43)" font-size="10" font-style="italic" text-anchor="middle" dominant-baseline="central" textLength="19.4" lengthAdjust="spacingAndGlyphs" fill="#5e5e5e">10-21</text>
<text class="ax" transform="translate(435.80 584.2) rotate(-43)" font-size="10" font-style="italic" text-anchor="middle" dominant-baseline="central" textLength="19.4" lengthAdjust="spacingAndGlyphs" fill="#5e5e5e">10-22</text>
<text class="ax" transform="translate(454.80 584.2) rotate(-43)" font-size="10" font-style="italic" text-anchor="middle" dominant-baseline="central" textLength="19.4" lengthAdjust="spacingAndGlyphs" fill="#5e5e5e">10-23</text>
<text class="ax" transform="translate(473.80 584.2) rotate(-43)" font-size="10" font-style="italic" text-anchor="middle" dominant-baseline="central" textLength="19.4" lengthAdjust="spacingAndGlyphs" fill="#5e5e5e">10-24</text>
<text class="ax" transform="translate(492.80 584.2) rotate(-43)" font-size="10" font-style="italic" text-anchor="middle" dominant-baseline="central" textLength="19.4" lengthAdjust="spacingAndGlyphs" fill="#5e5e5e">10-25</text>
<text class="ax" transform="translate(511.80 584.2) rotate(-43)" font-size="10" font-style="italic" text-anchor="middle" dominant-baseline="central" textLength="19.4" lengthAdjust="spacingAndGlyphs" fill="#5e5e5e">10-26</text>
<text class="ax" transform="translate(530.80 584.2) rotate(-43)" font-size="10" font-style="italic" text-anchor="middle" dominant-baseline="central" textLength="19.4" lengthAdjust="spacingAndGlyphs" fill="#5e5e5e">10-27</text>
<text class="ax" transform="translate(549.80 584.2) rotate(-43)" font-size="10" font-style="italic" text-anchor="middle" dominant-baseline="central" textLength="19.4" lengthAdjust="spacingAndGlyphs" fill="#5e5e5e">10-28</text>
<text class="ax" transform="translate(568.80 584.2) rotate(-43)" font-size="10" font-style="italic" text-anchor="middle" dominant-baseline="central" textLength="19.4" lengthAdjust="spacingAndGlyphs" fill="#5e5e5e">10-29</text>
<text class="ax" transform="translate(587.80 584.2) rotate(-43)" font-size="10" font-style="italic" text-anchor="middle" dominant-baseline="central" textLength="19.4" lengthAdjust="spacingAndGlyphs" fill="#5e5e5e">10-30</text>
<text class="ax" transform="translate(606.80 584.2) rotate(-43)" font-size="10" font-style="italic" text-anchor="middle" dominant-baseline="central" textLength="19.4" lengthAdjust="spacingAndGlyphs" fill="#5e5e5e">10-31</text>
<text class="ax" transform="translate(624.50 587) rotate(-43)" font-size="10" font-style="italic" text-anchor="middle" dominant-baseline="central" textLength="7.6" lengthAdjust="spacingAndGlyphs" fill="#5e5e5e">11</text>
<rect x="555.8" y="361.3" width="14.2" height="16.2" fill="#14dc1e"/>
<rect x="555.8" y="380.8" width="14.2" height="14.2" fill="#0707e6"/>
<text class="kr" x="575" y="374.4" font-size="16" font-weight="700" fill="#2fbb4f" textLength="25" lengthAdjust="spacingAndGlyphs">평년</text>
<text class="kr" x="575" y="395" font-size="16" font-weight="700" fill="#15158a" textLength="43.7" lengthAdjust="spacingAndGlyphs">2025년</text>
<path d="M80.5 371.5L104.3 407.5" stroke="#4aa582" stroke-width="1.3" fill="none"/><rect x="104.3" y="380.8" width="196.8" height="56.2" fill="#fff" stroke="#d9efe4" stroke-width="3.5"/><rect x="104.3" y="380.8" width="196.8" height="56.2" fill="#fff" stroke="#46a680" stroke-width="1.4"/><ellipse cx="74.5" cy="362" rx="9.2" ry="12.3" fill="#0c7a10"/><ellipse cx="74.5" cy="362" rx="5.4" ry="7.4" fill="#8ccf4a"/>
<text class="kr" x="201.7" y="403.6" font-size="14.5" font-weight="700" fill="#2a8a28" text-anchor="middle" textLength="17.5" lengthAdjust="spacingAndGlyphs">3일</text>
<text class="kr" x="113.2" y="421.6" font-size="14.5" font-weight="700" fill="#2a8a28" textLength="179.3" lengthAdjust="spacingAndGlyphs">저기압 영향 <tspan font-family="Noto Sans CJK KR,sans-serif">→</tspan> 산지 중심 많은 비</text>
<path d="M309.5 493.3L346.3 486" stroke="#4aa582" stroke-width="1.3" fill="none"/><rect x="346.3" y="458.8" width="224.2" height="54.5" fill="#fff" stroke="#d9efe4" stroke-width="3.5"/><rect x="346.3" y="458.8" width="224.2" height="54.5" fill="#fff" stroke="#46a680" stroke-width="1.4"/><ellipse cx="300.5" cy="496.3" rx="9.2" ry="12.3" fill="#0c7a10"/><ellipse cx="300.5" cy="496.3" rx="5.4" ry="7.4" fill="#8ccf4a"/>
<text class="kr" x="458.7" y="481.4" font-size="14.5" font-weight="700" fill="#2a8a28" text-anchor="middle" textLength="23" lengthAdjust="spacingAndGlyphs">15일</text>
<text class="kr" x="356.2" y="502.4" font-size="14.5" font-weight="700" fill="#2a8a28" textLength="202.5" lengthAdjust="spacingAndGlyphs">동풍의 영향 <tspan font-family="Noto Sans CJK KR,sans-serif">→</tspan> 동부지역&#160;&#160;중심 많은 비</text>
</g>
<text class="kr" y="617.6" font-size="13.3" fill="#222"><tspan x="170.2" textLength="13.3" lengthAdjust="spacingAndGlyphs">【</tspan><tspan x="186.5" textLength="26.6" lengthAdjust="spacingAndGlyphs">그림</tspan><tspan x="221.7" textLength="18" lengthAdjust="spacingAndGlyphs">2】</tspan><tspan x="242.9" textLength="43.5" lengthAdjust="spacingAndGlyphs">2025년</tspan><tspan x="296.7" textLength="26.5" lengthAdjust="spacingAndGlyphs">10월</tspan><tspan x="332.9" textLength="40" lengthAdjust="spacingAndGlyphs">제주도</tspan><tspan x="382.9" textLength="25.5" lengthAdjust="spacingAndGlyphs">일별</tspan><tspan x="417.9" textLength="40.5" lengthAdjust="spacingAndGlyphs">강수량</tspan></text>
</svg></body></html>
